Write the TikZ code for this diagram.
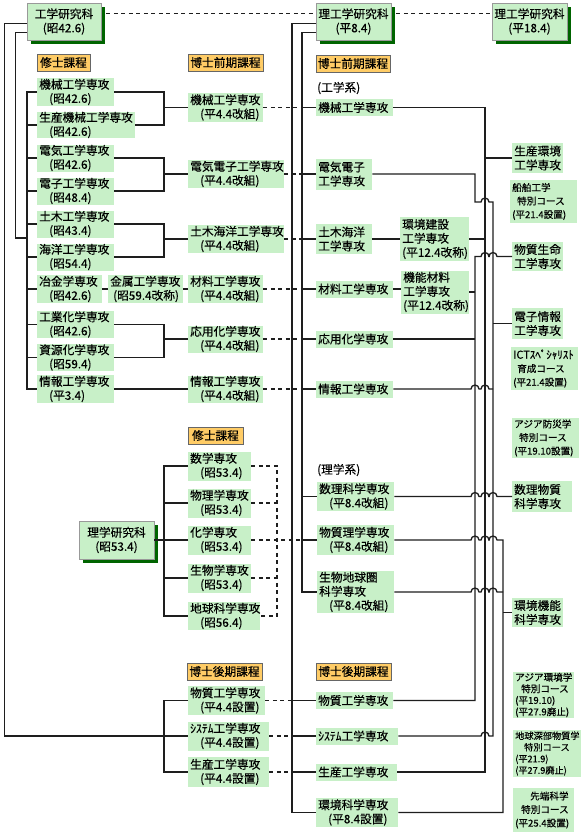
\documentclass[tikz,border=0pt]{standalone}
\usepackage{fontspec}
\setmainfont{Noto Sans CJK JP}[FakeBold=0.35]
\usetikzlibrary{calc,shadows}
\definecolor{bgc}{RGB}{200,240,200}
\definecolor{labc}{RGB}{255,204,102}
\definecolor{kdark}{RGB}{0,100,0}
\definecolor{lnc}{RGB}{30,30,30}
\tikzset{
 gbox/.style={fill=bgc, draw=none, inner xsep=2bp, inner ysep=0bp, align=left, font=\fontsize{11.7bp}{14bp}\selectfont},
 course/.style={font=\fontsize{9.6bp}{13.5bp}\selectfont},
 ken/.style={fill=bgc, draw=black!40, line width=0.7bp, align=center, inner sep=0bp, font=\fontsize{11.7bp}{14bp}\selectfont, drop shadow={shadow xshift=4bp,shadow yshift=-4bp,fill=kdark,opacity=1}},
 kbox/.style={fill=labc, draw=black!60, line width=0.7bp, inner sep=0bp, font=\fontsize{11.7bp}{14bp}\selectfont},
 plain/.style={inner sep=0bp, anchor=west, font=\fontsize{11.7bp}{14bp}\selectfont},
 conn/.style={draw=lnc, line width=1.3bp},
 dconn/.style={conn, dash pattern=on 4bp off 3.5bp},
 jr/.style={insert path={arc[start angle=180,end angle=0,radius=4bp]}},
 jl/.style={insert path={arc[start angle=0,end angle=180,radius=4bp]}},
}
\newcommand\gb[7][]{%
  \pgfmathsetmacro\gbtw{#5-4}%
  \node[gbox,anchor=west,minimum width=#5bp,minimum height=#6bp,text width=\gbtw bp,#1] (#2) at (#3,#4) {#7};}
\newcommand\ind{\hspace*{10bp}}
\begin{document}
\begin{tikzpicture}[x=1bp,y=-1bp]
\fill[white] (0,0) rectangle (584,833);
\useasboundingbox (0,0) rectangle (584,833);

% research schools
\node[ken,minimum width=74bp,minimum height=37bp] (koga) at (64,21.5) {工学研究科\\(昭42.6)};
\node[ken,minimum width=75bp,minimum height=37bp] (riko1) at (353.5,21.5) {理工学研究科\\(平8.4)};
\node[ken,minimum width=75bp,minimum height=37bp] (riko2) at (529.5,21.5) {理工学研究科\\(平18.4)};
\node[ken,minimum width=75bp,minimum height=38bp] (rigaku) at (116.5,540) {理学研究科\\(昭53.4)};

% course labels
\node[kbox,minimum width=53bp,minimum height=17bp] (lab1) at (63.5,62.5) {修士課程};
\node[kbox,minimum width=75bp,minimum height=17bp] (lab2) at (225.5,62.5) {博士前期課程};
\node[kbox,minimum width=74bp,minimum height=17bp] (lab3) at (353,63.5) {博士前期課程};
\node[kbox,minimum width=55bp,minimum height=17bp] (lab4) at (215.5,435.5) {修士課程};
\node[kbox,minimum width=75bp,minimum height=17bp] (lab5) at (224.5,671.5) {博士後期課程};
\node[kbox,minimum width=75bp,minimum height=17bp] (lab6) at (353.5,671.5) {博士後期課程};
\node[plain] (kei1) at (317,88) {(工学系)};
\node[plain] (kei2) at (317,470) {(理学系)};

% master (engineering)
\gb{m1}{37}{92}{77}{28}{機械工学専攻\\\ind(昭42.6)}
\gb{m2}{37}{125}{98}{26}{生産機械工学専攻\\\ind(昭42.6)}
\gb{m3}{37}{158}{77}{27}{電気工学専攻\\\ind(昭42.6)}
\gb{m4}{37}{191}{77}{27}{電子工学専攻\\\ind(昭48.4)}
\gb{m5}{37}{224}{77}{27}{土木工学専攻\\\ind(昭43.4)}
\gb{m6}{37}{257}{77}{27}{海洋工学専攻\\\ind(昭54.4)}
\gb{m7}{37}{289}{65}{28}{冶金学専攻\\\ind(昭42.6)}
\gb{m8}{108}{289}{75}{28}{金属工学専攻\\\hspace*{3bp}(昭59.4改称)}
\gb{m9}{37}{324.5}{77}{27}{工業化学専攻\\\ind(昭42.6)}
\gb{m10}{37}{357.5}{77}{27}{資源化学専攻\\\ind(昭59.4)}
\gb{m11}{37}{389}{77}{28}{情報工学専攻\\\ind(平3.4)}

% H4 reorganised
\gb{p1}{188}{107.5}{75}{29}{機械工学専攻\\\ind(平4.4改組)}
\gb{p2}{188}{174}{96}{28}{電気電子工学専攻\\\ind(平4.4改組)}
\gb{p3}{188}{239}{96}{28}{土木海洋工学専攻\\\ind(平4.4改組)}
\gb{p4}{188}{289}{75}{28}{材料工学専攻\\\ind(平4.4改組)}
\gb{p5}{188}{339}{75}{27}{応用化学専攻\\\ind(平4.4改組)}
\gb{p6}{188}{389}{75}{27}{情報工学専攻\\\ind(平4.4改組)}

% science master
\gb{s1}{188}{466}{63}{29}{数学専攻\\\ind(昭53.4)}
\gb{s2}{188}{503}{63}{29}{物理学専攻\\\ind(昭53.4)}
\gb{s3}{188}{540}{63}{29}{化学専攻\\\ind(昭53.4)}
\gb{s4}{188}{578}{63}{29}{生物学専攻\\\ind(昭53.4)}
\gb{s5}{188}{616}{72}{28}{地球科学専攻\\\ind(昭56.4)}

% doctoral H4
\gb{d1}{188}{700.5}{77}{29}{物質工学専攻\\\ind(平4.4設置)}
\gb{d2}{188}{736}{81}{29}{ｼｽﾃﾑ工学専攻\\\ind(平4.4設置)}
\gb{d3}{188}{772}{81}{30}{生産工学専攻\\\ind(平4.4設置)}

% H8 science and engineering
\gb{r1}{316}{107.5}{77}{17}{機械工学専攻}
\gb{r2}{316}{174}{56}{31}{電気電子\\工学専攻}
\gb{r3}{316}{239}{56}{30}{土木海洋\\工学専攻}
\gb{r4}{400}{239}{69}{44}{環境建設\\工学専攻\\(平12.4改称)}
\gb{r5}{316}{289}{77}{17}{材料工学専攻}
\gb{r6}{401}{292}{68}{43}{機能材料\\工学専攻\\(平12.4改称)}
\gb{r7}{316}{339}{77}{17}{応用化学専攻}
\gb{r8}{316}{389}{77}{17}{情報工学専攻}
\gb{r9}{317}{496.5}{77}{29}{数理科学専攻\\\ind(平8.4改組)}
\gb{r10}{317}{540}{77}{30}{物質理学専攻\\\ind(平8.4改組)}
\gb{r11}{317}{592}{77}{42}{生物地球圏\\科学専攻\\\ind(平8.4改組)}
\gb{r12}{316}{700.5}{77}{17}{物質工学専攻}
\gb{r13}{316}{736}{82}{17}{ｼｽﾃﾑ工学専攻}
\gb{r14}{316}{772}{81}{17}{生産工学専攻}
\gb{r15}{316}{812.5}{82}{29}{環境科学専攻\\\ind(平8.4設置)}

% H18
\gb{f1}{512}{158}{51}{30}{生産環境\\工学専攻}
\gb{f2}{512}{256.5}{51}{29}{物質生命\\工学専攻}
\gb{f3}{512}{323.5}{51}{31}{電子情報\\工学専攻}
\gb{f4}{512}{496.5}{60}{31}{数理物質\\科学専攻}
\gb{f5}{512}{612.5}{51}{29}{環境機能\\科学専攻}

% special courses
\gb[course]{c1}{510}{201.5}{67}{43}{船舶工学\\\hspace*{5bp}特別コース\\(平21.4設置)}
\gb[course]{c2}{511}{368.5}{67}{43}{{\fontsize{11bp}{13.5bp}\selectfont ICTｽﾍﾟｼｬﾘｽﾄ}\\\hspace*{4bp}育成コース\\(平21.4設置)}
\gb[course]{c3}{512}{438}{67}{40}{アジア防災学\\\hspace*{5bp}特別コース\\(平19.10設置)}
\gb[course,font=\fontsize{9.6bp}{11.5bp}\selectfont]{c4}{513}{695}{61}{46}{アジア環境学\\\hspace*{6bp}特別コース\\(平19.10)\\(平27.9廃止)}
\gb[course,font=\fontsize{9.2bp}{11.5bp}\selectfont]{c5}{513}{753.5}{68}{47}{地球深部物質学\\\hspace*{9bp}特別コース\\(平21.9)\\(平27.9廃止)}
\gb[course]{c6}{513}{810}{61}{44}{\hspace*{15bp}先端科学\\\hspace*{6bp}特別コース\\(平25.4設置)}

% bus coordinates
\coordinate (bA) at (485,0);
\coordinate (bB) at (475,0);
\coordinate (bC) at (493,0);
\coordinate (bD) at (503,0);
\coordinate (bR1) at (292,0);
\coordinate (bR2) at (302,0);
\coordinate (sdx) at (277,0);
\coordinate (kj) at (27,238);

% left of 工学研究科
\draw[conn] ([yshift=-21bp]koga.north west) -- ++(-22,0) |- (d2.west);
\draw[conn] ([yshift=-30bp]koga.north west) -- ++(-11,0) |- (kj);
\draw[conn] (m1.west) -- ++(-10,0) |- (m11.west);
\foreach \n in {m2,m3,m4,m5,m6,m7,m9,m10} \draw[conn] (\n.west) -- ++(-10,0);
% merges
\draw[conn] (m1.east) -| ($(p1.west)+(-24,0)$) |- (m2.east);
\draw[conn] ($(p1.west)+(-24,0)$) -- (p1.west);
\draw[conn] (m3.east) -| ($(p2.west)+(-24,0)$) |- (m4.east);
\draw[conn] ($(p2.west)+(-24,0)$) -- (p2.west);
\draw[conn] (m5.east) -| ($(p3.west)+(-24,0)$) |- (m6.east);
\draw[conn] ($(p3.west)+(-24,0)$) -- (p3.west);
\draw[conn] (m9.east) -| ($(p5.west)+(-24,0)$) |- (m10.east);
\draw[conn] ($(p5.west)+(-24,0)$) -- (p5.west);
\draw[conn] (m7.east) -- (m8.west);
\draw[conn] (m8.east) -- (p4.west);
\draw[conn] (m11.east) -- (p6.west);

% science
\draw[conn] (s1.west) -- ++(-24,0) |- (s5.west);
\foreach \n in {s2,s3,s4} \draw[conn] (\n.west) -- ++(-24,0);
\draw[conn] (rigaku.east) -- ($(s3.west)+(-24,0)$);
\draw[dconn] (s1.east) -| (s5.east -| sdx) -- (s5.east);
\draw[dconn] (s2.east) -- (s2.east -| sdx);
\draw[dconn] (s4.east) -- (s4.east -| sdx);
\draw[dconn] (s3.east) -- (r10.west -| bR2);

% doctoral
\draw[conn] (d1.west) -- ++(-24,0) |- (d3.west);
\draw[dconn] (d1.east) -- (r12.west -| bR1);
\draw[dconn] (d2.east) -- (r13.west -| bR1);
\draw[dconn] (d3.east) -- (r14.west -| bR1);

% dashed continuation
\draw[dconn] ([xshift=5bp,yshift=-11bp]koga.north east) -- ([yshift=-11bp]riko1.north west);
\draw[dconn] ([xshift=5bp,yshift=-11bp]riko1.north east) -- ([yshift=-11bp]riko2.north west);
\draw[dconn] (p1.east) -- (r1.west -| bR2);
\draw[dconn] (p2.east) -- (r2.west -| bR2);
\draw[dconn] (p3.east) -- (r3.west -| bR2);
\draw[dconn] (p4.east) -- (r5.west -| bR2);
\draw[dconn] (p5.east) -- (r7.west -| bR2);
\draw[dconn] (p6.east) -- (r8.west -| bR2);

% left of 理工学研究科
\draw[conn] ([yshift=-21bp]riko1.north west) -| (r15.west -| bR1) -- (r15.west);
\draw[conn] ([yshift=-30bp]riko1.north west) -| (r11.west -| bR2) -- (r11.west);
\foreach \n in {r1,r2,r3,r5,r7,r8,r9,r10} \draw[conn] (\n.west -| bR2) -- (\n.west);
\foreach \n in {r12,r13,r14} \draw[conn] (\n.west -| bR1) -- (\n.west);
\draw[conn] (r3.east) -- (r4.west);
\draw[conn] (r5.east) -- (r5.east -| r6.west);

% bus A
\draw[conn] (r1.east) -| (r14.east -| bA) -- (r14.east);
\draw[conn] (f1.west -| bA) -- (f1.west);
\draw[conn] (r4.east) -- (r4.east -| bA);
% electric -> bus C
\draw[conn] (r2.east) -- (r2.east -| bB) -- ++(0,28) -- ++(6,0) [jr] -- ++(4,0) -- (r13.east -| bC) -- ++(-4,0) [jl] -- (r13.east);
\draw[conn] (f3.west -| bC) -- (f3.west);
\draw[conn] (r8.east) -- ($(r8.east -| bB)+(-4,0)$) [jr] -- ($(r8.east -| bA)+(-4,0)$) [jr] -- (r8.east -| bC);
% bus B
\draw[conn] (f2.west) -- ($(f2.west -| bC)+(4,0)$) [jl] -- ($(f2.west -| bA)+(4,0)$) [jl] -- (f2.west -| bB) -- (r12.east -| bB) -- (r12.east);
\draw[conn] (r6.east) -- (r6.east -| bB);
\draw[conn] (r7.east) -- (r7.east -| bB);
% science lines
\draw[conn] (r9.east) -- ($(r9.east -| bB)+(-4,0)$) [jr] -- ($(r9.east -| bA)+(-4,0)$) [jr] -- ($(r9.east -| bC)+(-4,0)$) [jr] -- (f4.west);
\draw[conn] (r10.east) -- ($(r10.east -| bB)+(-4,0)$) [jr] -- ($(r10.east -| bA)+(-4,0)$) [jr] -- ($(r10.east -| bC)+(-4,0)$) [jr] -- (r10.east -| bD) -- (r15.east -| bD) -- (r15.east);
\draw[conn] (r11.east) -- ($(r11.east -| bB)+(-4,0)$) [jr] -- ($(r11.east -| bA)+(-4,0)$) [jr] -- ($(r11.east -| bC)+(-4,0)$) [jr] -- (r11.east -| bD);
\draw[conn] (f5.west -| bD) -- (f5.west);
\end{tikzpicture}
\end{document}
